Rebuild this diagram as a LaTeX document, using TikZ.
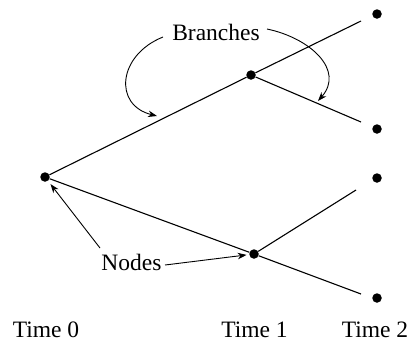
\documentclass[tikz,border=0pt]{standalone}
\usepackage{fontspec}
\setmainfont{Liberation Serif}
\usetikzlibrary{arrows.meta}
\begin{document}
\begin{tikzpicture}[x=1pt,y=-1pt,
  dot/.style={circle,fill=black,inner sep=0pt,minimum size=9.5pt},
  branch/.style={line width=1.1pt},
  pointer/.style={line width=0.9pt,-{Stealth[length=9pt,width=6.5pt]}},
  lbl/.style={font=\fontsize{23.5}{28}\selectfont,anchor=base,inner sep=0pt}]
\useasboundingbox (0,0) rectangle (411,341);
% tree nodes
\node[dot] (root) at (45,177) {};
\node[dot] (up) at (251,75) {};
\node[dot] (low) at (254,254) {};
\node[dot] (r1) at (377,14) {};
\node[dot] (r2) at (377,129) {};
\node[dot] (r3) at (377,178) {};
\node[dot] (r4) at (377,298) {};
% free ends of branches
\coordinate (e1) at (361,21);
\coordinate (e2) at (361,122);
\coordinate (e3) at (356,190);
\coordinate (e4) at (361,294);
% branches
\draw[branch] (root) -- (up);
\draw[branch] (up) -- (e1);
\draw[branch] (up) -- (e2);
\draw[branch] (root) -- (low);
\draw[branch] (low) -- (e3);
\draw[branch] (low) -- (e4);
% labels
\node[lbl] (br) at (216,40) {Branches};
\node[lbl] (nd) at (131.5,270) {Nodes};
\node[lbl] (t0) at (46,337) {Time 0};
\node[lbl] (t1) at (254.5,337) {Time 1};
\node[lbl] (t2) at (375,337) {Time 2};
% pointer anchors
\coordinate (bl) at (163,37);
\coordinate (bla) at (157,116);
\coordinate (brs) at (267,29);
\coordinate (bra) at (318,101);
\coordinate (nl) at (100,248);
\coordinate (nr) at (165,265);
% pointers
\draw[pointer] (bl) .. controls (118,55) and (113,105) .. (bla);
\draw[pointer] (brs) .. controls (310,38) and (345,70) .. (bra);
\draw[pointer,shorten >=4pt] (nl) -- (root);
\draw[pointer,shorten >=2.5pt] (nr) -- (low);
\end{tikzpicture}
\end{document}
